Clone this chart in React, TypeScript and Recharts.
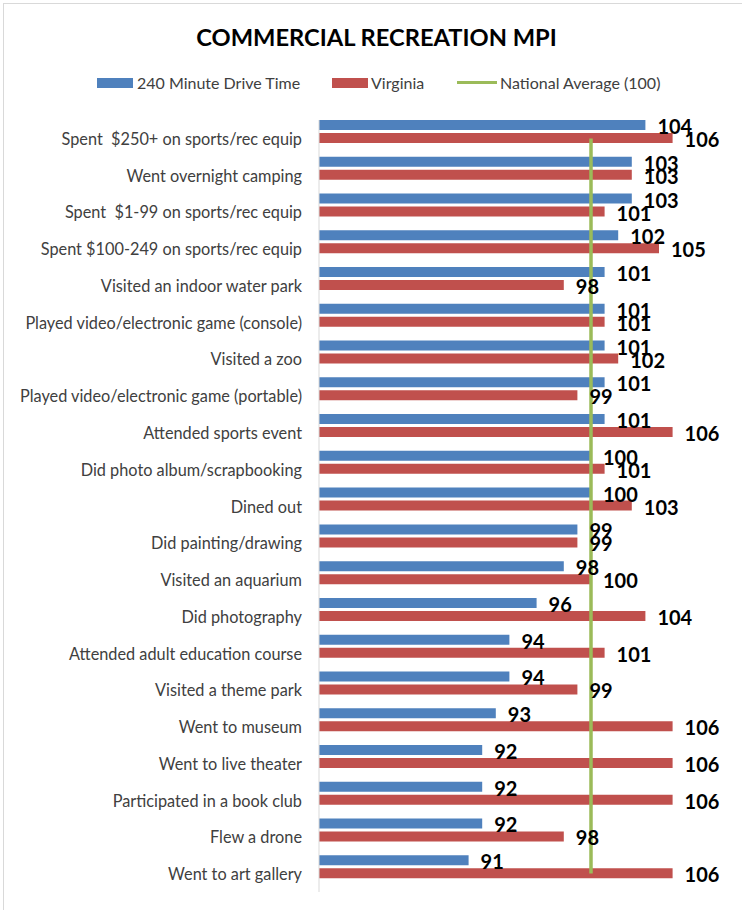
import React from "react";
import { ComposedChart, Bar, Line, XAxis, YAxis, LabelList } from "recharts";

const categories = [
  "Spent  $250+ on sports/rec equip",
  "Went overnight camping",
  "Spent  $1-99 on sports/rec equip",
  "Spent $100-249 on sports/rec equip",
  "Visited an indoor water park",
  "Played video/electronic game (console)",
  "Visited a zoo",
  "Played video/electronic game (portable)",
  "Attended sports event",
  "Did photo album/scrapbooking",
  "Dined out",
  "Did painting/drawing",
  "Visited an aquarium",
  "Did photography",
  "Attended adult education course",
  "Visited a theme park",
  "Went to museum",
  "Went to live theater",
  "Participated in a book club",
  "Flew a drone",
  "Went to art gallery",
];

const driveTime = [104, 103, 103, 102, 101, 101, 101, 101, 101, 100, 100, 99, 98, 96, 94, 94, 93, 92, 92, 92, 91];
const virginia = [106, 103, 101, 105, 98, 101, 102, 99, 106, 101, 103, 99, 100, 104, 101, 99, 106, 106, 106, 98, 106];
const nationalAverage = [100, 100, 100, 100, 100, 100, 100, 100, 100, 100, 100, 100, 100, 100, 100, 100, 100, 100, 100, 100, 100];

const seriesNames = ["240 Minute Drive Time", "Virginia", "National Average (100)"];
const title = "COMMERCIAL RECREATION MPI";

const BLUE = "#4F81BD";
const RED = "#C0504D";
const GREEN = "#9BBB59";

const data = categories.map((name, i) => ({
  name,
  drive: driveTime[i],
  virginia: virginia[i],
  national: nationalAverage[i],
}));

const valueLabel = (props: any) => {
  const { x, y, width, height, value } = props;
  return (
    <text
      x={Number(x) + Number(width) + 12}
      y={Number(y) + Number(height) / 2 + 1}
      dominantBaseline="central"
      textAnchor="start"
      fontFamily="Lato"
      fontWeight={700}
      fontSize={20}
      fill="#000"
    >
      {value}
    </text>
  );
};

const CategoryTick = (props: any) => {
  const { x, y, payload } = props;
  return (
    <text
      x={x}
      y={y}
      dominantBaseline="central"
      textAnchor="end"
      fontFamily="Lato"
      fontSize={16.3}
      fill="#404040"
      style={{ whiteSpace: "pre" }}
    >
      {payload.value}
    </text>
  );
};

const legendText: React.CSSProperties = {
  position: "absolute",
  top: 73,
  fontFamily: "Lato",
  fontSize: 16,
  color: "#404040",
  lineHeight: "20px",
  whiteSpace: "nowrap",
};

export default function App() {
  return (
    <div style={{ position: "relative", width: 742, height: 910, overflow: "hidden", background: "#fff" }}>
      <style>{`body{margin:0;}`}</style>
      <div
        style={{
          position: "absolute",
          left: 3,
          top: 3,
          width: 800,
          height: 1000,
          border: "1px solid #d9d9d9",
          boxSizing: "border-box",
        }}
      />
      <div
        style={{
          position: "absolute",
          left: 0,
          width: 753,
          top: 21,
          textAlign: "center",
          fontFamily: "Lato",
          fontWeight: 700,
          fontSize: 23.7,
          lineHeight: "32px",
          color: "#000",
        }}
      >
        {title}
      </div>
      <div style={{ position: "absolute", left: 97, top: 78, width: 36, height: 10, background: BLUE }} />
      <div style={{ ...legendText, left: 137 }}>{seriesNames[0]}</div>
      <div style={{ position: "absolute", left: 332, top: 78, width: 36, height: 10, background: RED }} />
      <div style={{ ...legendText, left: 371 }}>{seriesNames[1]}</div>
      <div style={{ position: "absolute", left: 457, top: 81, width: 40, height: 3, background: GREEN }} />
      <div style={{ ...legendText, left: 500 }}>{seriesNames[2]}</div>

      <div style={{ position: "absolute", left: 0, top: 0 }}>
        <ComposedChart
          width={742}
          height={910}
          data={data}
          layout="vertical"
          margin={{ top: 120, right: 15, bottom: 18, left: 0 }}
          barSize={10}
          barGap={3}
          barCategoryGap={0}
        >
          <XAxis type="number" domain={[80, 110]} hide allowDataOverflow />
          <YAxis
            type="category"
            dataKey="name"
            width={319}
            tickLine={false}
            tickSize={0}
            tickMargin={17}
            axisLine={{ stroke: "#d9d9d9" }}
            tick={<CategoryTick />}
            interval={0}
          />
          <Bar dataKey="drive" name={seriesNames[0]} fill={BLUE} isAnimationActive={false}>
            <LabelList dataKey="drive" content={valueLabel} />
          </Bar>
          <Bar dataKey="virginia" name={seriesNames[1]} fill={RED} isAnimationActive={false}>
            <LabelList dataKey="virginia" content={valueLabel} />
          </Bar>
          <Bar dataKey="nationalSlot" fill="none" isAnimationActive={false} legendType="none" />
          <Line
            dataKey="national"
            name={seriesNames[2]}
            stroke={GREEN}
            strokeWidth={3.5}
            dot={false}
            activeDot={false}
            isAnimationActive={false}
          />
        </ComposedChart>
      </div>
    </div>
  );
}
